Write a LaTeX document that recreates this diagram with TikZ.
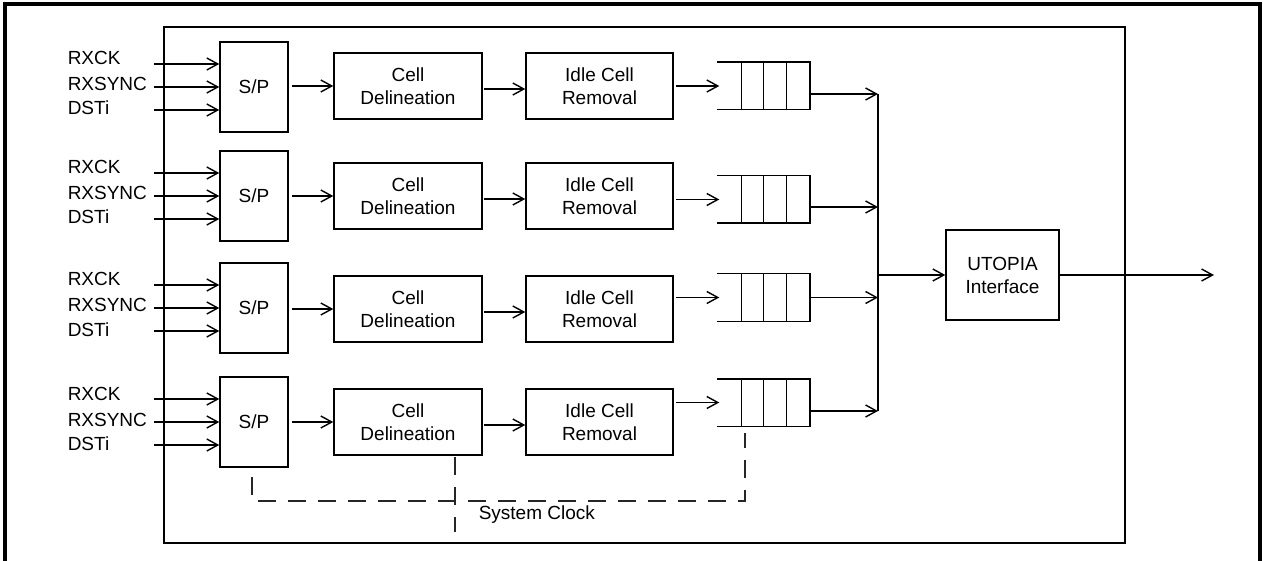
\documentclass[tikz,border=0pt]{standalone}
\usepackage{fontspec}
\setmainfont{Liberation Sans}
\usetikzlibrary{arrows.meta}
\begin{document}
\begin{tikzpicture}[x=1pt,y=-1pt,
  line width=1.5pt,
  every node/.style={font=\fontsize{19}{23}\selectfont, inner sep=0pt},
  blk/.style={draw, align=center, line width=1.5pt},
  arr/.style={-{Straight Barb[length=11pt,width=12pt,line width=1.4pt]}},
  clk/.style={dash pattern=on 18pt off 12pt, line width=1.5pt, draw=black!85}
]
\useasboundingbox (0,0) rectangle (1263,561);
% outer frame (open at bottom)
\draw[line width=3.2pt] (5,561) -- (5,4) -- (1260,4) -- (1260,561);
% chip boundary
\node[draw, minimum width=961pt, minimum height=516pt] (chip) at (644.5,285) {};
% bus
\coordinate (bt) at (878,94);
\coordinate (bb) at (878,411);
\draw (bt) -- (bb);
% rows
\foreach \r/\c/\cd/\fc/\fo in {1/87/86/86/8, 2/196/196/199.5/7.5, 3/308/309/297.5/0, 4/422/422/402.5/8.5}{
  \node[blk, minimum width=68pt, minimum height=90pt] (sp\r) at (254,\c) {S/P};
  \node[blk, minimum width=148pt, minimum height=66pt] (cd\r) at (408,\cd) {Cell\\Delineation};
  \node[blk, minimum width=147pt, minimum height=66pt] (ic\r) at (599.5,\cd) {Idle Cell\\Removal};
  \node[minimum width=91pt, minimum height=46pt] (ff\r) at (763.5,\fc) {};
  \draw (ff\r.north west) -- (ff\r.north east) -- (ff\r.south east) -- (ff\r.south west);
  \foreach \dx in {24,46,69}
    \draw ([xshift=\dx pt]ff\r.north west) -- ([xshift=\dx pt]ff\r.south west);
  % input labels
  \node[anchor=base west] (lck\r) at (67,\c-22) {RXCK};
  \node[anchor=base west] (lsy\r) at (67,\c+4) {RXSYNC};
  \node[anchor=base west] (lds\r) at (67,\c+28) {DSTi};
  % input arrows
  \coordinate (ia\r) at (154,\c-23);
  \coordinate (ib\r) at (154,\c);
  \coordinate (ic\r x) at (154,\c+23);
  \draw[arr] (ia\r) -- (ia\r -| sp\r.west);
  \draw[arr] (ib\r) -- (ib\r -| sp\r.west);
  \draw[arr] (ic\r x) -- (ic\r x -| sp\r.west);
  % chain
  \draw[arr] ([xshift=3pt]sp\r.east |- cd\r.west) -- (cd\r.west);
  \draw[arr] ([xshift=1pt,yshift=-3pt]cd\r.east) -- ([yshift=-3pt]cd\r.east -| ic\r.west);
  \draw[arr] ([xshift=2pt]ic\r.east |- ff\r.west) -- ([xshift=2pt]ff\r.west);
  \draw[arr] ([yshift=-\fo pt]ff\r.east) -- ([yshift=-\fo pt]ff\r.east -| bt);
}
% UTOPIA
\node[blk, minimum width=113pt, minimum height=90pt] (ut) at (1002.5,275) {UTOPIA\\Interface};
\draw[arr] (bt |- ut.west) -- (ut.west);
\coordinate (out) at (1214,275);
\draw[arr] (ut.east) -- (out);
% system clock
\coordinate (c1) at (252,477);
\coordinate (c2) at (745,433);
\coordinate (c3) at (455,457);
\coordinate (c4) at (455,532);
\draw[clk] (c1) |- (745,501) -- (c2);
\draw[clk] (c3) -- (c4);
\node[anchor=west] (sc) at (478,515) {System Clock};
\end{tikzpicture}
\end{document}
